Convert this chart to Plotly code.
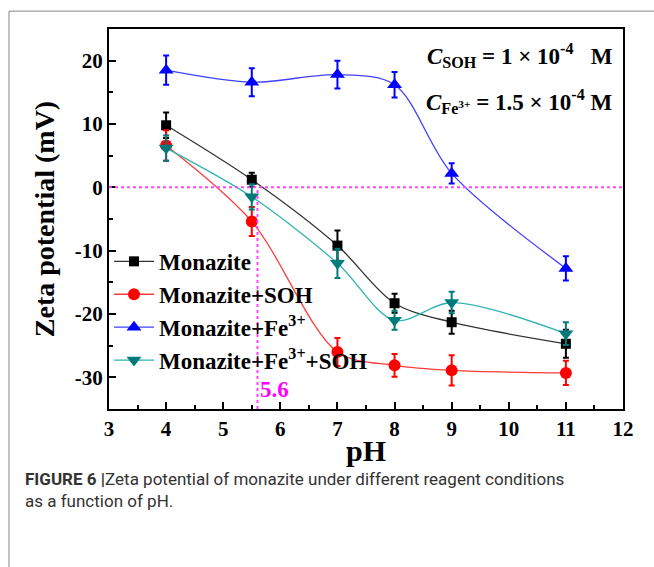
import plotly.graph_objects as go

ph = [4, 5.5, 7, 8, 9, 11]
monazite = [9.8, 1.2, -9.2, -18.3, -21.3, -24.7]
monazite_err = [2.0, 1.1, 2.4, 1.5, 1.8, 2.2]
mon_soh = [6.6, -5.4, -26.0, -28.1, -28.9, -29.3]
mon_soh_err = [2.4, 2.3, 2.2, 1.8, 2.4, 1.9]
mon_fe = [18.5, 16.6, 17.8, 16.2, 2.2, -12.8]
mon_fe_err = [2.3, 2.2, 2.2, 2.0, 1.6, 1.9]
mon_fe_soh = [6.2, -1.5, -12.0, -21.0, -18.2, -23.1]
mon_fe_soh_err = [2.0, 2.0, 2.3, 1.5, 1.7, 1.8]

names = ["Monazite", "Monazite+SOH", "Monazite+Fe<sup>3+</sup>", "Monazite+Fe<sup>3+</sup>+SOH"]
iep_ph = 5.6
x_ticks = [3, 4, 5, 6, 7, 8, 9, 10, 11, 12]
y_ticks = [-30, -20, -10, 0, 10, 20]

SERIF = "Liberation Serif, Times New Roman, serif"

series = [
    (monazite, monazite_err, "#000000", "#333333", "square", 10),
    (mon_soh, mon_soh_err, "#ff0000", "#ff3b3b", "circle", 12),
    (mon_fe, mon_fe_err, "#0000ff", "#4040ff", "triangle-up", 13),
    (mon_fe_soh, mon_fe_soh_err, "#007a7a", "#2fb3b3", "triangle-down", 13),
]

fig = go.Figure()
for (vals, err, mc, lc, sym, sz), nm in zip(series, names):
    fig.add_trace(go.Scatter(
        x=ph, y=vals, name=f"<b>{nm}</b>", mode="lines+markers",
        line=dict(color=lc, width=1.3, shape="spline", smoothing=0.9),
        marker=dict(color=mc, symbol=sym, size=sz, line=dict(width=0)),
        error_y=dict(type="data", array=err, visible=True, color=mc, thickness=2, width=3),
    ))

# reference lines
fig.add_shape(type="line", xref="x", yref="y", x0=3, x1=12, y0=0, y1=0,
              line=dict(color="#ff44ff", width=2, dash="dot"))
fig.add_shape(type="line", xref="x", yref="y", x0=iep_ph, x1=iep_ph, y0=-35, y1=0,
              line=dict(color="#ff44ff", width=2, dash="dot"))
fig.add_annotation(x=iep_ph, y=-31.9, xref="x", yref="y", text="<b>5.6</b>",
                   showarrow=False, xanchor="left", xshift=1,
                   font=dict(family=SERIF, size=23, color="#ff00ff"))

fig.add_annotation(x=0.985, y=0.93, xref="paper", yref="paper", xanchor="right", yanchor="middle",
                   text="<b><i>C</i><sub>SOH</sub> = 1 × 10<sup>-4</sup>   M</b>", showarrow=False,
                   font=dict(family=SERIF, size=23, color="#000000"))
fig.add_annotation(x=0.985, y=0.81, xref="paper", yref="paper", xanchor="right", yanchor="middle",
                   text="<b><i>C</i><sub>Fe<sup>3+</sup></sub> = 1.5 × 10<sup>-4</sup> M</b>", showarrow=False,
                   font=dict(family=SERIF, size=23, color="#000000"))

# outer frame (top and left edges)
fig.add_shape(type="line", xref="paper", yref="paper", x0=-0.1946, x1=1.07, y0=1.047, y1=1.047,
              line=dict(color="#888888", width=1), layer="below")
fig.add_shape(type="line", xref="paper", yref="paper", x0=-0.1946, x1=-0.1946, y0=-0.42, y1=1.047,
              line=dict(color="#888888", width=1), layer="below")

# caption
fig.add_annotation(x=-0.168, y=-0.152, xref="paper", yref="paper", xanchor="left", yanchor="top",
                   align="left", showarrow=False,
                   text="<b>FIGURE 6 |</b>Zeta potential of monazite under different reagent conditions<br>as a function of pH.",
                   font=dict(family="Roboto, sans-serif", size=17, color="#333333"))

axis_common = dict(showline=True, linecolor="black", linewidth=2, mirror=True,
                   ticks="inside", ticklen=7, tickwidth=1.5, tickcolor="black",
                   showgrid=False, zeroline=False,
                   tickfont=dict(family=SERIF, size=21, color="black"))

fig.update_xaxes(range=[3, 12], tickvals=x_ticks, ticktext=[f"<b>{v}</b>" for v in x_ticks],
                 minor=dict(ticks="inside", ticklen=4, dtick=0.5, tickcolor="black", tickwidth=1.5),
                 title=dict(text="<b>pH</b>", font=dict(family=SERIF, size=30, color="black"), standoff=0),
                 **axis_common)
fig.update_yaxes(range=[-35, 25], tickvals=y_ticks, ticktext=[f"<b>{v}</b>" for v in y_ticks],
                 minor=dict(ticks="inside", ticklen=4, dtick=5, tickcolor="black", tickwidth=1.5),
                 title=dict(text="<b>Zeta potential (mV)</b>", font=dict(family=SERIF, size=28, color="black"), standoff=12),
                 **axis_common)

fig.update_layout(
    width=654, height=567,
    margin=dict(l=109, r=31, t=29, b=158),
    paper_bgcolor="white", plot_bgcolor="white",
    legend=dict(x=0.0, y=0.445, xanchor="left", yanchor="top", bgcolor="rgba(0,0,0,0)",
                font=dict(family=SERIF, size=23, color="black"), itemwidth=40,
                tracegroupgap=0),
    showlegend=True,
)

fig.write_html("out.html")
